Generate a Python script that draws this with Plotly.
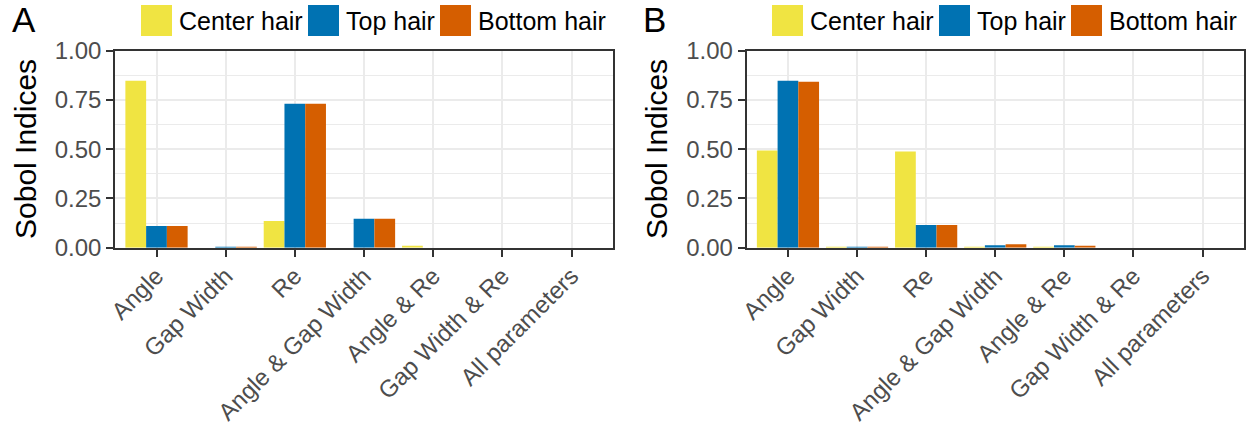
import plotly.graph_objects as go

categories = ["Angle", "Gap Width", "Re", "Angle & Gap Width", "Angle & Re",
              "Gap Width & Re", "All parameters"]
series_names = ["Center hair", "Top hair", "Bottom hair"]
colors = ["#F0E442", "#0072B2", "#D55E00"]

# Panel A values
a_center = [0.847, 0.0, 0.135, 0.0, 0.008, 0.0, 0.0]
a_top = [0.110, 0.002, 0.731, 0.147, 0.0, 0.0, 0.0]
a_bottom = [0.110, 0.002, 0.731, 0.147, 0.0, 0.0, 0.0]

# Panel B values
b_center = [0.493, 0.001, 0.488, 0.001, 0.001, 0.0, 0.0]
b_top = [0.847, 0.002, 0.115, 0.013, 0.013, 0.0, 0.0]
b_bottom = [0.842, 0.002, 0.115, 0.018, 0.008, 0.0, 0.0]

y_ticks = [0, 0.25, 0.5, 0.75, 1.0]
y_ticklabels = ["0.00", "0.25", "0.50", "0.75", "1.00"]
y_title = "Sobol Indices"
panel_letters = ["A", "B"]

W, H = 1253, 429
FONT = "Liberation Sans, Arial, Helvetica, sans-serif"

fig = go.Figure()
panels = [("x", "y", [a_center, a_top, a_bottom]),
          ("x2", "y2", [b_center, b_top, b_bottom])]
for xa, ya, vals in panels:
    for name, col, v in zip(series_names, colors, vals):
        fig.add_trace(go.Bar(x=categories, y=v, name=name, marker_color=col,
                             marker_line_width=0, xaxis=xa, yaxis=ya,
                             showlegend=False))

def px_x(p):
    return p / W

def px_y(p):
    return 1 - p / H

ydom = [px_y(247.7), px_y(50.7)]
xdomA = [px_x(115), px_x(613)]
xdomB = [px_x(746.5), px_x(1244)]

common_x = dict(type="category", range=[-0.6, 6.6], showgrid=True,
                gridcolor="#EBEBEB", gridwidth=1.6, showline=True,
                linecolor="#333333", linewidth=1.6, mirror=True,
                ticks="outside", ticklen=7, tickwidth=1.6, tickcolor="#333333",
                tickangle=-45, tickfont=dict(family=FONT, size=24, color="#4D4D4D"),
                ticklabelstandoff=-4,
                zeroline=False, automargin=False)
common_y = dict(range=[0, 1], tickvals=y_ticks, ticktext=y_ticklabels,
                showgrid=True, gridcolor="#EBEBEB", gridwidth=1.6,
                minor=dict(tickvals=[0.125, 0.375, 0.625, 0.875], showgrid=True,
                           gridcolor="#EBEBEB", gridwidth=0.8, ticks=""),
                showline=True, linecolor="#333333", linewidth=1.6, mirror=True,
                ticks="outside", ticklen=7, tickwidth=1.6, tickcolor="#333333",
                tickfont=dict(family=FONT, size=24, color="#4D4D4D"),
                zeroline=False, automargin=False)

fig.update_layout(
    width=W, height=H, margin=dict(l=0, r=0, t=0, b=0),
    paper_bgcolor="white", plot_bgcolor="white",
    barmode="group", bargap=0.1, bargroupgap=0,
    xaxis=dict(domain=xdomA, anchor="y", **common_x),
    yaxis=dict(domain=ydom, anchor="x", **common_y),
    xaxis2=dict(domain=xdomB, anchor="y2", **common_x),
    yaxis2=dict(domain=ydom, anchor="x2", **common_y),
    font=dict(family=FONT),
)

# Y axis titles
for xp in [25, 656]:
    fig.add_annotation(text=y_title, xref="paper", yref="paper", x=px_x(xp), y=px_y(149),
                       xanchor="center", yanchor="middle", textangle=-90, showarrow=False,
                       font=dict(family=FONT, size=30, color="black"))

# Panel letters
for letter, xp in zip(panel_letters, [10, 641]):
    fig.add_annotation(text=letter, xref="paper", yref="paper", x=px_x(xp), y=px_y(20),
                       xanchor="left", yanchor="middle", showarrow=False,
                       font=dict(family=FONT, size=35, color="black"))

# Manual legends (keys + labels)
legend_layout = [
    ([141, 308, 440], [177, 344, 476]),
    ([772, 939, 1071], [808, 975, 1107]),
]
for boxes, texts in legend_layout:
    for bx, tx, name, col in zip(boxes, texts, series_names, colors):
        fig.add_shape(type="rect", xref="paper", yref="paper",
                      x0=px_x(bx), x1=px_x(bx + 31), y0=px_y(36), y1=px_y(5),
                      fillcolor=col, line_width=0)
        fig.add_annotation(text=name, xref="paper", yref="paper", x=px_x(tx), y=px_y(21),
                           xanchor="left", yanchor="middle", showarrow=False,
                           font=dict(family=FONT, size=25, color="black"))

fig.write_html("out.html", config={"displayModeBar": False},
               post_script="document.body.style.margin='0';document.body.style.overflow='hidden';")
